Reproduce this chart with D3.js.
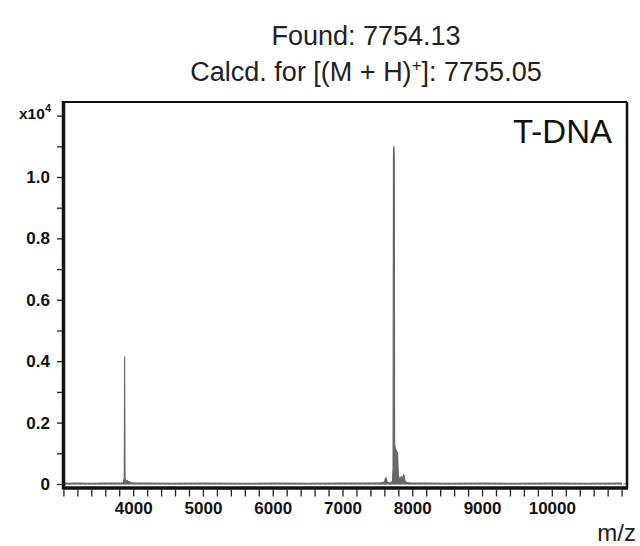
<!DOCTYPE html>
<html><head><meta charset="utf-8">
<script src="https://cdn.jsdelivr.net/npm/d3@7"></script>
<style>body{margin:0;background:#fff}svg{display:block}</style>
</head><body>
<svg id="c" width="640" height="546"></svg>
<script>
// Spectrum data (m/z, intensity in units of 10^4)
const mz = [3000,3200,3400,3600,3800,3860,3872,3878,3884,3896,3905,3915,3925,3940,3960,3990,4050,4200,4500,5000,5500,6000,6500,7000,7300,7550,7600,7615,7628,7640,7660,7700,7716,7724,7730,7736,7742,7748,7754,7770,7790,7800,7812,7822,7832,7845,7860,7875,7885,7895,7910,7930,7960,8000,8200,8500,9000,9500,10000,10500,11000];
const intensity = [0.002,0.003,0.002,0.003,0.003,0.004,0.02,0.414,0.015,0.012,0.01,0.012,0.006,0.008,0.005,0.004,0.003,0.003,0.002,0.003,0.002,0.003,0.002,0.003,0.003,0.004,0.006,0.018,0.02,0.006,0.004,0.005,0.01,0.05,1.09,1.10,1.07,0.13,0.12,0.11,0.10,0.03,0.02,0.015,0.02,0.025,0.012,0.03,0.028,0.01,0.006,0.005,0.004,0.003,0.003,0.002,0.003,0.002,0.003,0.002,0.003];
const xTicks = [4000,5000,6000,7000,8000,9000,10000];
const yTicks = [0,0.2,0.4,0.6,0.8,1.0];
const titleLines = ["Found: 7754.13","Calcd. for [(M + H)","]: 7755.05"];
const sampleLabel = "T-DNA";
const xLabel = "m/z";

const svg = d3.select("#c");
const L=63.5, R=627, T=102, B=488;
const x = d3.scaleLinear().domain([3000,11000]).range([63.4,621.6]);
const y = d3.scaleLinear().domain([0,1]).range([484,177]);

const tfont = "'Liberation Sans', Arial, sans-serif";
svg.append("text").attr("x",366).attr("y",45).attr("text-anchor","middle")
  .attr("font-family",tfont).attr("font-size",27).attr("fill","#222").text(titleLines[0]);
const t2 = svg.append("text").attr("x",366).attr("y",81).attr("text-anchor","middle")
  .attr("font-family",tfont).attr("font-size",27).attr("fill","#222");
t2.append("tspan").text(titleLines[1]);
t2.append("tspan").attr("dy",-10).attr("font-size",17).text("+");
t2.append("tspan").attr("dy",10).text(titleLines[2]);

// spectrum
const pts = mz.map((m,i)=>[m,intensity[i]]);
svg.append("path").datum(pts)
  .attr("d", d3.area().x(d=>x(d[0])).y0(y(0)).y1(d=>y(d[1])))
  .attr("fill","#666").attr("stroke","#666").attr("stroke-width",1.1).attr("stroke-linejoin","round");
svg.append("line").attr("x1",L).attr("x2",R).attr("y1",y(0)).attr("y2",y(0))
  .attr("stroke","#777").attr("stroke-width",1.2).attr("stroke-dasharray","3,2");

// frame
svg.append("line").attr("x1",L).attr("x2",R).attr("y1",T).attr("y2",T).attr("stroke","#111").attr("stroke-width",2);
svg.append("line").attr("x1",R).attr("x2",R).attr("y1",T).attr("y2",B).attr("stroke","#111").attr("stroke-width",2.5);
svg.append("line").attr("x1",L).attr("x2",L).attr("y1",T-1).attr("y2",B+1.5).attr("stroke","#111").attr("stroke-width",3.5);
svg.append("line").attr("x1",L).attr("x2",R+1).attr("y1",B).attr("y2",B).attr("stroke","#111").attr("stroke-width",3.5);

// y axis
const yMinor = d3.range(0,13).map(i=>i/10);
const yAxis = d3.axisLeft(y).tickValues(yMinor).tickSize(5).tickFormat(d=>{
  const r=Math.round(d*10)/10; return yTicks.some(t=>Math.abs(t-r)<1e-9) ? (r===0?"0":r.toFixed(1)) : "";});
const gy = svg.append("g").attr("transform",`translate(${L-1.5},0)`).call(yAxis);
gy.select(".domain").remove();
gy.selectAll("line").attr("stroke","#222").attr("stroke-width",1.3);
gy.selectAll("text").attr("font-family",tfont).attr("font-weight","bold").attr("font-size",17).attr("fill","#111").attr("dx",-4);
const ex = svg.append("text").attr("x",51).attr("y",y(1.2)+3).attr("text-anchor","end")
  .attr("font-family",tfont).attr("font-weight","bold").attr("font-size",15.5).attr("fill","#111");
ex.append("tspan").text("x10");
ex.append("tspan").attr("dy",-7).attr("font-size",11).text("4");

// x axis
const xMinor = d3.range(3000,11001,200);
const xAxis = d3.axisBottom(x).tickValues(xMinor).tickSize(7).tickFormat(d=>xTicks.includes(d)?String(d):"");
const gx = svg.append("g").attr("transform",`translate(0,${B+1.5})`).call(xAxis);
gx.select(".domain").remove();
gx.selectAll("line").attr("stroke","#222").attr("stroke-width",1.3);
gx.selectAll("text").attr("font-family",tfont).attr("font-weight","bold").attr("font-size",17).attr("fill","#111").attr("dy","0.85em");

svg.append("text").attr("x",612).attr("y",143).attr("text-anchor","end")
  .attr("font-family",tfont).attr("font-size",33).attr("fill","#111").text(sampleLabel);
svg.append("text").attr("x",636).attr("y",541).attr("text-anchor","end")
  .attr("font-family",tfont).attr("font-size",24).attr("fill","#222").text(xLabel);
</script>
</body></html>
